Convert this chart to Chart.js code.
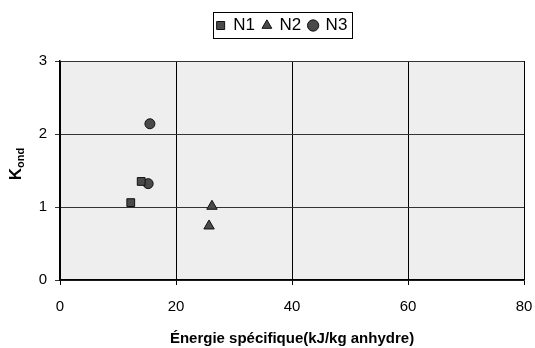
<!DOCTYPE html>
<html>
<head>
<meta charset="utf-8">
<script src="https://cdn.jsdelivr.net/npm/chart.js@4"></script>
<style>
  html, body { margin: 0; padding: 0; background: #fff; }
  #wrap { width: 535px; height: 348px; }
</style>
</head>
<body>
<div id="wrap"><canvas id="chart"></canvas></div>
<script>
// values
const seriesNames = ['N1', 'N2', 'N3'];
const n1X = [12.2, 14.0];
const n1Y = [1.06, 1.35];
const n2X = [26.2, 25.7];
const n2Y = [1.01, 0.74];
const n3X = [15.5, 15.2];
const n3Y = [2.14, 1.32];
const xTicks = [0, 20, 40, 60, 80];
const yTicks = [0, 1, 2, 3];

const toPoints = (xs, ys) => xs.map((x, i) => ({ x: x, y: ys[i] }));
const FONT = '"Liberation Sans", Arial, sans-serif';
const legendShift = 40; // legend sits a little right of centre in the original

// grey plot background, legend frame, extra gap under legend, K_ond title
const decor = {
  id: 'decor',
  afterInit(chart) {
    const lg = chart.legend;
    const fit = lg.fit.bind(lg);
    lg.fit = function () { fit(); this.height = 52; };
  },
  afterLayout(chart) {
    chart.legend.left += legendShift;
  },
  beforeDraw(chart) {
    const { ctx, chartArea: a } = chart;
    ctx.save();
    ctx.fillStyle = '#eeeeee';
    ctx.fillRect(a.left, a.top, a.right - a.left, a.bottom - a.top);
    ctx.restore();
  },
  afterDraw(chart) {
    const ctx = chart.ctx;
    const lg = chart.legend;
    if (lg && lg.legendHitBoxes.length) {
      const boxes = lg.legendHitBoxes;
      const last = boxes[boxes.length - 1];
      const l = boxes[0].left - 4;
      const r = last.left + last.width + 4;
      const t = boxes[0].top - 5;
      const b = boxes[0].top + boxes[0].height + 4;
      ctx.save();
      ctx.strokeStyle = '#000';
      ctx.lineWidth = 1;
      ctx.strokeRect(Math.round(l) + 0.5, Math.round(t) + 0.5, Math.round(r - l), Math.round(b - t));
      ctx.restore();
    }
    // y axis title with subscript
    ctx.save();
    ctx.translate(16, 164);
    ctx.rotate(-Math.PI / 2);
    ctx.fillStyle = '#000';
    ctx.textBaseline = 'middle';
    ctx.textAlign = 'left';
    ctx.font = 'bold 17px ' + FONT;
    const kw = ctx.measureText('K').width;
    ctx.font = 'bold 11px ' + FONT;
    const sw = ctx.measureText('ond').width;
    const start = -(kw + sw) / 2;
    ctx.font = 'bold 17px ' + FONT;
    ctx.fillText('K', start, 0);
    ctx.font = 'bold 11px ' + FONT;
    ctx.fillText('ond', start + kw, 5);
    ctx.restore();
  }
};

const markerFill = '#4a4a4a';

new Chart(document.getElementById('chart').getContext('2d'), {
  type: 'scatter',
  data: {
    datasets: [
      {
        label: seriesNames[0],
        data: toPoints(n1X, n1Y),
        pointStyle: 'rect',
        pointRadius: 5.5,
        backgroundColor: markerFill,
        borderColor: '#111',
        borderWidth: 1
      },
      {
        label: seriesNames[1],
        data: toPoints(n2X, n2Y),
        pointStyle: 'triangle',
        pointRadius: 6,
        backgroundColor: markerFill,
        borderColor: '#111',
        borderWidth: 1
      },
      {
        label: seriesNames[2],
        data: toPoints(n3X, n3Y),
        pointStyle: 'circle',
        pointRadius: 5,
        backgroundColor: markerFill,
        borderColor: '#111',
        borderWidth: 1
      }
    ]
  },
  options: {
    responsive: true,
    maintainAspectRatio: false,
    animation: false,
    layout: { padding: { top: 9, right: 11, left: 0, bottom: 0 } },
    plugins: {
      tooltip: { enabled: false },
      legend: {
        display: true,
        position: 'top',
        labels: {
          usePointStyle: true,
          boxWidth: 8,
          boxHeight: 8,
          padding: 8,
          color: '#000',
          font: { family: FONT, size: 17 }
        }
      }
    },
    scales: {
      x: {
        type: 'linear',
        min: 0,
        max: 80,
        afterBuildTicks: (s) => { s.ticks = xTicks.map(v => ({ value: v })); },
        afterFit: (s) => { s.height = 68; s.paddingRight = 0; s.paddingLeft = 0; },
        ticks: {
          color: '#000',
          padding: 13,
          font: { family: FONT, size: 15 }
        },
        grid: { color: '#000', lineWidth: 1, tickLength: 5 },
        border: { color: '#000', width: 1.5 },
        title: {
          display: true,
          text: 'Énergie spécifique(kJ/kg anhydre)',
          color: '#000',
          padding: { top: 14, bottom: 0 },
          font: { family: FONT, size: 15, weight: 'bold' }
        }
      },
      y: {
        type: 'linear',
        min: 0,
        max: 3,
        afterBuildTicks: (s) => { s.ticks = yTicks.map(v => ({ value: v })); },
        afterFit: (s) => { s.width = 60; s.paddingTop = 0; s.paddingBottom = 0; },
        ticks: {
          color: '#000',
          padding: 8,
          font: { family: FONT, size: 15 }
        },
        grid: { color: '#333', lineWidth: 1, tickLength: 5 },
        border: { color: '#000', width: 1.5 }
      }
    }
  },
  plugins: [decor]
});
</script>
</body>
</html>
